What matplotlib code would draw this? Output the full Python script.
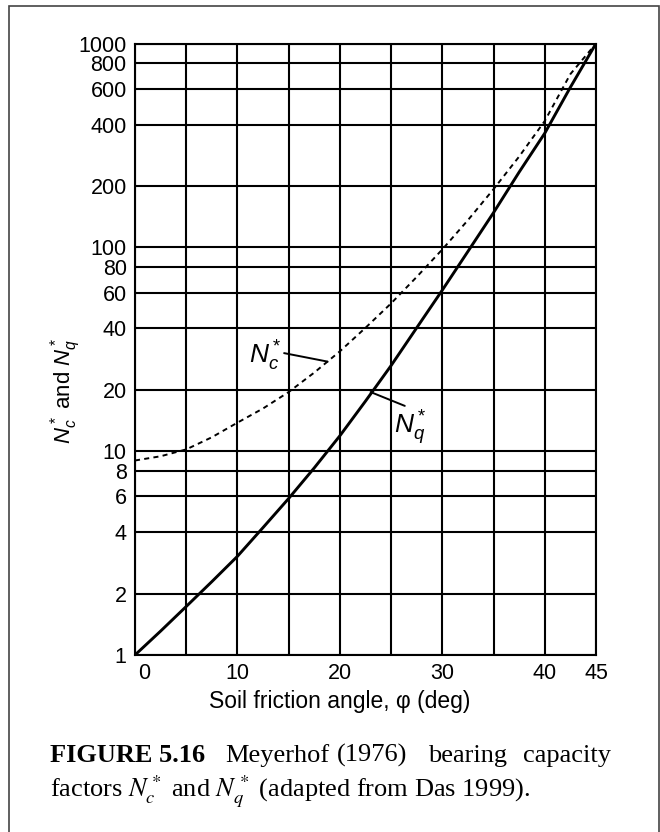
import numpy as np
import matplotlib.pyplot as plt
import matplotlib.ticker as mticker
from matplotlib.patches import Rectangle
from matplotlib.transforms import ScaledTranslation

plt.rcParams['font.family'] = ['Liberation Sans', 'DejaVu Sans']
plt.rcParams['mathtext.fontset'] = 'custom'
plt.rcParams['mathtext.rm'] = 'Liberation Sans'
plt.rcParams['mathtext.it'] = 'Liberation Sans:italic'
plt.rcParams['mathtext.bf'] = 'Liberation Sans:bold'

# friction angle (deg) at which both curves were read
phi = [0, 2.5, 5, 7.5, 10, 12.5, 15, 17.5, 20, 22.5, 25, 27.5, 30,
       32.5, 35, 37.5, 40, 42.5, 45]
# Nq* (solid curve)
nq = [1, 1.31, 1.73, 2.29, 3.05, 4.22, 5.86, 8.28, 11.9, 17.6, 26.3, 40.3, 61.7,
      95.5, 148, 234, 363, 610, 1000]
# Nc* (dashed curve)
nc = [9.0, 9.44, 10.2, 11.7, 13.8, 16.2, 19.5, 24.3, 30.9, 40.3, 53.1, 71.6, 97.7,
      136, 193, 279, 417, 708, 1000]

# axis ticks
x_grid = [0, 5, 10, 15, 20, 25, 30, 35, 40, 45]
x_labels = ["0", "", "10", "", "20", "", "30", "", "40", "45"]
y_ticks = [1, 2, 4, 6, 8, 10, 20, 40, 60, 80, 100, 200, 400, 600, 800, 1000]

W, H = 660, 832
fig = plt.figure(figsize=(W / 100, H / 100), dpi=100)
ax = fig.add_axes([135 / W, (H - 655) / H, (596 - 135) / W, (655 - 43.5) / H])

ax.set_yscale("log")
ax.set_xlim(0, 45)
ax.set_ylim(1, 1000)
ax.set_xticks(x_grid)
ax.set_xticklabels(x_labels)
ax.set_yticks(y_ticks)
ax.yaxis.set_major_formatter(mticker.FuncFormatter(lambda v, p: "%d" % round(v)))
ax.yaxis.set_minor_locator(mticker.NullLocator())
ax.tick_params(length=0, labelsize=15.5, colors="black")
ax.tick_params(axis="x", pad=6)
ax.tick_params(axis="y", pad=6)
ax.grid(True, color="black", lw=1.5)
ax.set_axisbelow(True)
for s in ax.spines.values():
    s.set_linewidth(1.5)

# nudge the "0" label right like the original
t0 = ax.xaxis.get_major_ticks()[0].label1
t0.set_transform(t0.get_transform() + ScaledTranslation(9 / 100, 0, fig.dpi_scale_trans))

# curves
ax.plot(phi, nq, color="black", lw=2.1, solid_capstyle="round", zorder=3)
ax.plot(phi, nc, color="black", lw=1.4, ls=(0, (2.6, 2.2)), zorder=3)

# curve labels with leader lines
ax.annotate(r"$N_c^*$", xy=(18.8, 27.5), xytext=(265, H - 356),
            textcoords="figure pixels", fontsize=19, ha="center", va="center",
            arrowprops=dict(arrowstyle="-", lw=1.4, color="black",
                            relpos=(1.0, 0.6), shrinkA=0, shrinkB=0))
ax.annotate(r"$N_q^*$", xy=(23.0, 19.5), xytext=(410, H - 428),
            textcoords="figure pixels", fontsize=19, ha="center", va="center",
            arrowprops=dict(arrowstyle="-", lw=1.4, color="black",
                            relpos=(0.55, 1.0), shrinkA=0, shrinkB=0))

ax.set_ylabel(r"$N_c^*$ and $N_q^*$", fontsize=16)
ax.yaxis.set_label_coords(-0.113, 0.433)
ax.set_xlabel("Soil friction angle, φ (deg)", fontsize=16.5)
ax.xaxis.set_label_coords(0.445, -0.058)

# caption
cap = dict(family="Liberation Serif", fontsize=19, va="baseline")
fig.text(50.5 / W, 1 - 762 / H, "FIGURE 5.16", weight="bold", **cap)
fig.text(225 / W, 1 - 762 / H, "Meyerhof", **cap)
fig.text(337 / W, 1 - 762 / H, "(1976)", **cap)
fig.text(428 / W, 1 - 762 / H, "bearing", **cap)
fig.text(611 / W, 1 - 762 / H, "capacity", ha="right", **cap)
fig.text(50.5 / W, 1 - 797 / H, r"factors $N_c^*$ and $N_q^*$ (adapted from Das 1999).",
         math_fontfamily="stix", **cap)

# outer frame
fig.patches.append(Rectangle((9 / W, -0.01), (659 - 9) / W, 0.01 + 1 - 6 / H,
                             transform=fig.transFigure, fill=False,
                             edgecolor="#444444", lw=1.2))

fig.savefig("out.png", dpi=100)
